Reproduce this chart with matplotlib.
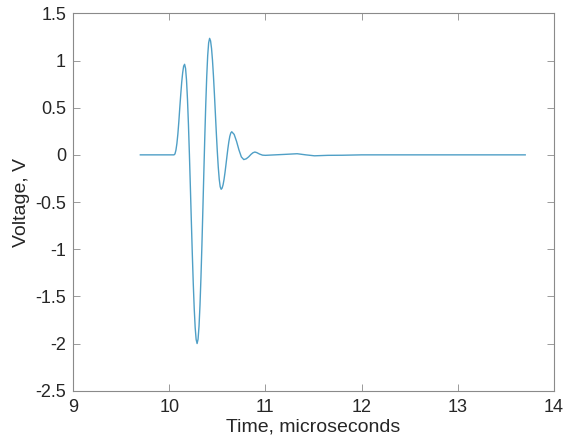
import numpy as np
import matplotlib.pyplot as plt

# waveform (time in microseconds, voltage in V)
t_us = [9.70, 10.00, 10.05, 10.06, 10.07, 10.08, 10.09, 10.10, 10.11,
        10.12, 10.13, 10.14, 10.15, 10.16,
        10.17, 10.18, 10.19, 10.20, 10.21, 10.22, 10.23, 10.24, 10.25,
        10.26, 10.27, 10.28, 10.29,
        10.30, 10.31, 10.32, 10.33, 10.34, 10.35, 10.36, 10.37, 10.38,
        10.39, 10.40, 10.41, 10.42,
        10.43, 10.44, 10.45, 10.46, 10.47, 10.48, 10.49, 10.50, 10.51,
        10.52, 10.53, 10.54,
        10.55, 10.56, 10.57, 10.58, 10.59, 10.60, 10.61, 10.62, 10.63,
        10.64, 10.65,
        10.675, 10.70, 10.725, 10.75, 10.775,
        10.80, 10.825, 10.85, 10.87, 10.89, 10.91, 10.94, 10.97,
        11.00, 11.10, 11.20, 11.33, 11.42, 11.51,
        11.65, 11.80, 12.00, 12.50, 13.00, 13.70]
volts = [0.0, 0.0, 0.0, 0.01, 0.05, 0.12, 0.22, 0.35, 0.50,
         0.64, 0.77, 0.87, 0.94, 0.96,
         0.917, 0.791, 0.588, 0.321, 0.005, -0.341, -0.699, -1.045, -1.361,
         -1.628, -1.831, -1.957, -2.00,
         -1.953, -1.816, -1.594, -1.301, -0.957, -0.578, -0.187, 0.192, 0.536,
         0.829, 1.051, 1.188, 1.235,
         1.208, 1.128, 1.001, 0.835, 0.642, 0.435, 0.228, 0.035, -0.131,
         -0.258, -0.338, -0.365,
         -0.352, -0.317, -0.260, -0.187, -0.103, -0.017, 0.067, 0.140, 0.197,
         0.232, 0.245,
         0.217, 0.143, 0.052, -0.022, -0.05,
         -0.042, -0.022, 0.005, 0.022, 0.03, 0.024, 0.008, -0.003,
         -0.005, 0.0, 0.005, 0.012, 0.0, -0.01,
         -0.005, -0.004, 0.0, 0.0, 0.0, 0.0]

plt.rcParams['font.family'] = ['Liberation Sans', 'DejaVu Sans']

fig = plt.figure(figsize=(5.64, 4.45), dpi=100)
ax = fig.add_axes([0.1294, 0.122, 0.853, 0.848])

ax.plot(t_us, volts, color='#4f9fc6', lw=1.0)

ax.set_xlim(9, 14)
ax.set_ylim(-2.5, 1.5)
ax.set_xticks(np.arange(9, 14.1, 1))
ax.set_yticks(np.arange(-2.5, 1.6, 0.5))
ax.set_yticklabels(['-2.5', '-2', '-1.5', '-1', '-0.5', '0', '0.5', '1', '1.5'])

ax.tick_params(direction='in', top=True, right=True, length=5, width=0.6,
               color='#8a8a8a', labelsize=13, labelcolor='#262626')
ax.tick_params(axis='x', pad=6)
ax.tick_params(axis='y', pad=5)
for s in ax.spines.values():
    s.set_color('#8a8a8a')
    s.set_linewidth(0.8)

ax.set_xlabel('Time, microseconds', fontsize=14, color='#262626', labelpad=2)
ax.set_ylabel('Voltage, V', fontsize=14, color='#262626', labelpad=4)

plt.savefig('out.png', dpi=100)
